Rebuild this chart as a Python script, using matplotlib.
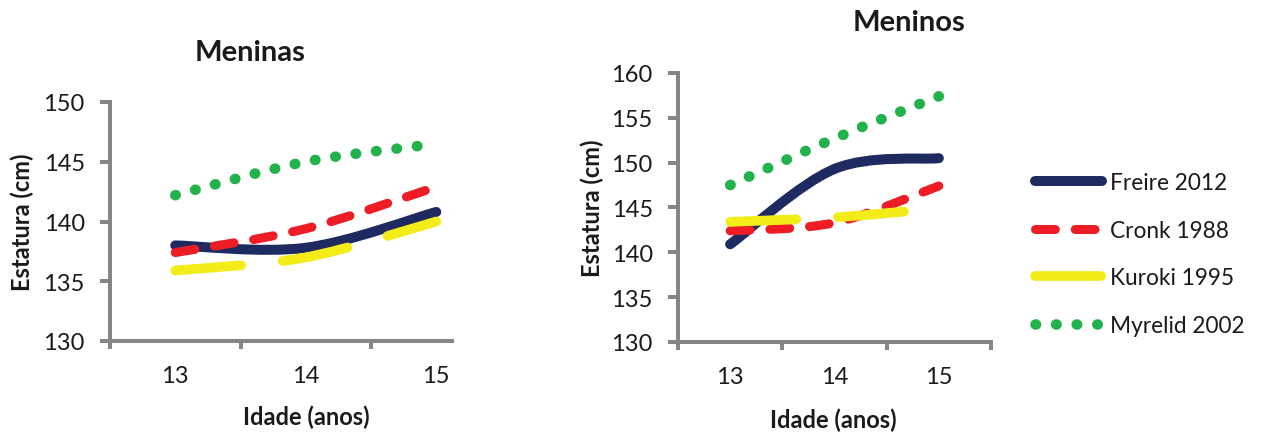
import numpy as np
import matplotlib
matplotlib.use("Agg")
import matplotlib.pyplot as plt
from matplotlib.path import Path
from matplotlib.patches import PathPatch
from matplotlib.lines import Line2D

plt.rcParams['font.family'] = ['Lato', 'DejaVu Sans']

# dados
idades = [13, 14, 15]
meninas_freire = [138.0, 137.8, 140.8]
meninas_cronk = [137.4, 139.4, 142.9]
meninas_kuroki = [135.9, 137.0, 140.0]
meninas_myrelid = [142.2, 145.0, 146.5]
meninos_freire = [140.9, 149.3, 150.5]
meninos_cronk = [142.4, 143.3, 147.4]
meninos_kuroki = [143.4, 143.9, 144.9]
meninos_myrelid = [147.5, 152.7, 157.4]

nomes = ['Freire 2012', 'Cronk 1988', 'Kuroki 1995', 'Myrelid 2002']
cores = ['#1f2a60', '#ee1c25', '#f3ec19', '#21b24b']
larguras = [7.2, 6.5, 7.0, 7.6]
estilos = ['-', (0, (2.2, 2.2)), (0, (6.8, 4.3)), (0, (0.05, 1.9))]

W, H = 1271, 435
cinza = '#868686'
texto = '#1a1a1a'


def curva_suave(xs, ys):
    # linha suavizada estilo Excel (bezier pelos pontos)
    pts = np.column_stack([xs, ys]).astype(float)
    n = len(pts)
    verts = [pts[0]]
    codes = [Path.MOVETO]
    for i in range(n - 1):
        pa = pts[max(i - 1, 0)]
        p0, p1 = pts[i], pts[i + 1]
        pb = pts[min(i + 2, n - 1)]
        verts += [p0 + (p1 - pa) / 6, p1 - (pb - p0) / 6, p1]
        codes += [Path.CURVE4] * 3
    return Path(verts, codes)


def painel(rect, series, ylim, xmax, xlabel_pos, ylabel_pos):
    ax = fig.add_axes(rect)
    for k, ys in enumerate(series):
        p = PathPatch(curva_suave(idades, ys), fill=False, edgecolor=cores[k],
                      lw=larguras[k], linestyle=estilos[k], capstyle='round',
                      joinstyle='round', zorder=2 + k)
        ax.add_patch(p)
    ax.set_xlim(12.5, xmax)
    ax.set_ylim(*ylim)
    ax.set_yticks(np.arange(ylim[0], ylim[1] + 1, 5))
    ax.set_xticks([v for v in [12.5, 13.5, 14.5, 15.5] if v <= xmax + 0.01])
    ax.set_xticklabels([])
    ax.set_xticks(idades, minor=True)
    ax.set_xticklabels([str(v) for v in idades], minor=True)
    for s in ['top', 'right']:
        ax.spines[s].set_visible(False)
    for s in ['left', 'bottom']:
        ax.spines[s].set_color(cinza)
        ax.spines[s].set_linewidth(2.9)
    ax.tick_params(axis='y', direction='out', length=7.2, width=2.9, color=cinza,
                   labelsize=17, labelcolor=texto, pad=11)
    ax.tick_params(axis='x', which='major', direction='out', length=5.8, width=2.9,
                   color=cinza)
    ax.tick_params(axis='x', which='minor', length=0, labelsize=17,
                   labelcolor=texto, pad=17)
    ax.set_xlabel('Idade (anos)', fontsize=17, fontweight='bold', color=texto,
                  va='center')
    ax.xaxis.set_label_coords(*xlabel_pos)
    ax.set_ylabel('Estatura (cm)', fontsize=17, fontweight='bold', color=texto,
                  va='center')
    ax.yaxis.set_label_coords(*ylabel_pos)
    return ax


fig = plt.figure(figsize=(W / 100, H / 100), dpi=100)

painel([110 / W, 1 - 342 / H, 342 / W, 239 / H],
       [meninas_freire, meninas_cronk, meninas_kuroki, meninas_myrelid],
       (130, 150), 12.5 + 342 / 130.5, (0.573, -0.314), (-0.257, 0.5))
painel([678 / W, 1 - 343 / H, 313 / W, 269 / H],
       [meninos_freire, meninos_cronk, meninos_kuroki, meninos_myrelid],
       (130, 160), 15.5, (0.495, -0.286), (-0.275, 0.5))

fig.text(250 / W, 1 - 53 / H, 'Meninas', fontsize=21, fontweight='bold',
         color=texto, ha='center', va='center')
fig.text(909 / W, 1 - 23 / H, 'Meninos', fontsize=21, fontweight='bold',
         color=texto, ha='center', va='center')

handles = [Line2D([], [], color=cores[k], lw=larguras[k], linestyle=estilos[k],
                  solid_capstyle='round', dash_capstyle='round')
           for k in range(4)]
fig.legend(handles, nomes, loc='center left', bbox_to_anchor=(1035 / W, 1 - 255 / H),
           frameon=False, fontsize=16.3, handlelength=2.95, handletextpad=0.35,
           labelspacing=1.18, borderpad=0, borderaxespad=0, labelcolor=texto)

fig.savefig('out.png', dpi=100)
